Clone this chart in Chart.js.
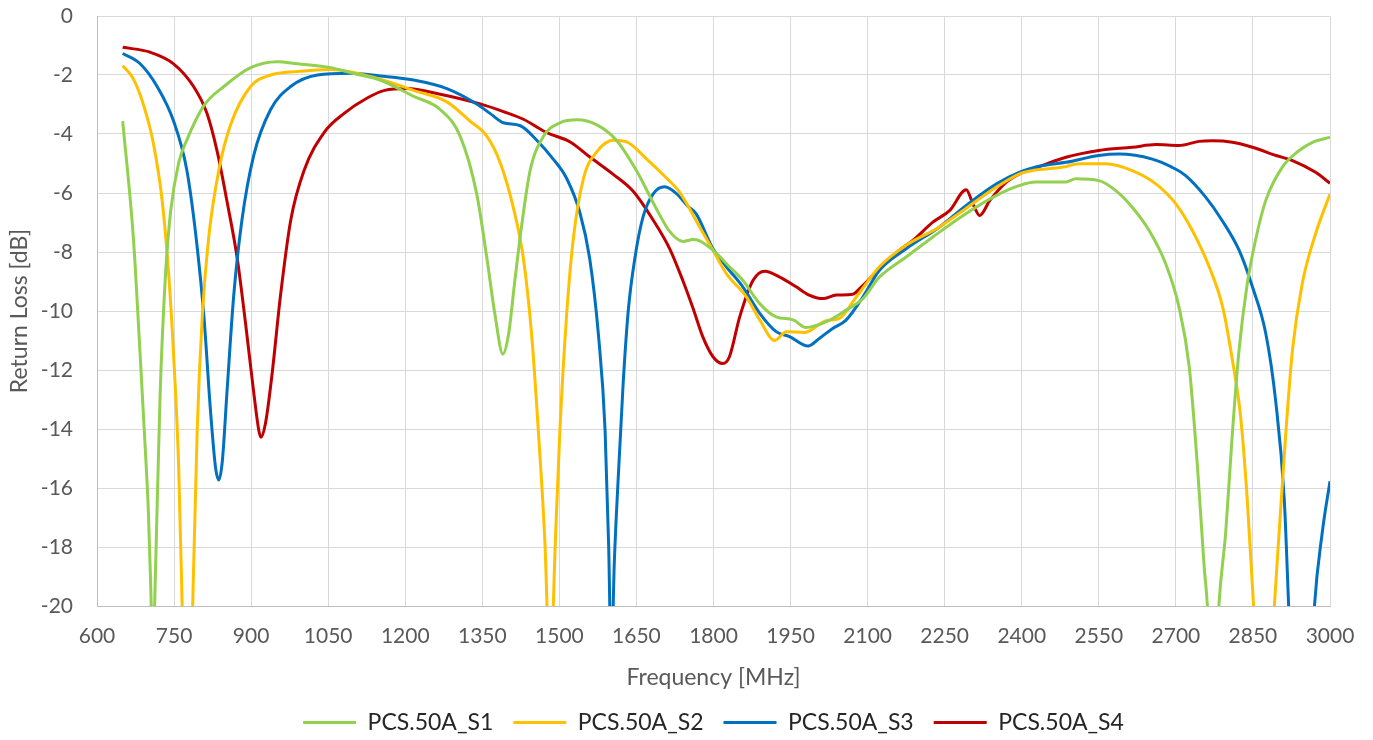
<!DOCTYPE html>
<html>
<head>
<meta charset="utf-8">
<title>Return Loss</title>
<script src="https://cdn.jsdelivr.net/npm/chart.js@4.4.1/dist/chart.umd.min.js"></script>
<style>
  html, body { margin: 0; padding: 0; background: #fff; }
  #wrap { width: 1373px; height: 740px; }
</style>
</head>
<body>
<div id="wrap"><canvas id="rlChart" width="1373" height="740"></canvas></div>
<script>
// frequency [MHz] / return loss [dB] (dips run below -20 and get clipped)
const s1Freq = [650, 671, 684, 695, 700, 705, 709, 713, 718, 723, 733, 743, 759, 775, 808, 847, 899, 951, 990, 1055, 1100, 1151, 1216, 1268, 1307, 1339, 1359, 1375, 1390, 1401, 1414, 1427, 1443, 1469, 1501, 1534, 1573, 1611, 1650, 1689, 1715, 1741, 1760, 1773, 1799, 1831, 1857, 1890, 1922, 1955, 1980, 2019, 2058, 2091, 2123, 2175, 2227, 2286, 2351, 2395, 2427, 2486, 2505, 2550, 2583, 2615, 2648, 2680, 2706, 2726, 2742, 2755, 2762, 2772, 2783, 2797, 2810, 2823, 2839, 2855, 2875, 2907, 2940, 2966, 3000];
const s1Loss = [-3.56, -7.57, -11.5, -15.0, -16.8, -19.6, -22, -19.4, -16.0, -12.75, -8.87, -6.67, -4.98, -4.2, -3.04, -2.39, -1.75, -1.55, -1.62, -1.75, -1.95, -2.17, -2.72, -3.17, -4.08, -6.02, -8.22, -10.16, -11.46, -10.8, -8.87, -7.05, -5.24, -4.08, -3.62, -3.52, -3.69, -4.21, -5.24, -6.54, -7.31, -7.64, -7.58, -7.62, -7.94, -8.5, -8.96, -9.75, -10.2, -10.3, -10.56, -10.37, -9.97, -9.58, -8.85, -8.17, -7.49, -6.76, -6.08, -5.75, -5.63, -5.63, -5.52, -5.58, -5.92, -6.48, -7.27, -8.39, -9.86, -11.89, -15.27, -18.65, -20.2, -25, -20.2, -17.5, -14.14, -11.32, -9.07, -7.6, -6.25, -5.13, -4.56, -4.28, -4.11];

const s2Freq = [650, 671, 691, 710, 727, 740, 749, 759, 766, 776, 786, 795, 805, 817, 837, 860, 899, 938, 990, 1055, 1151, 1216, 1281, 1326, 1359, 1385, 1411, 1430, 1446, 1459, 1472, 1482, 1492, 1501, 1514, 1527, 1547, 1573, 1605, 1631, 1670, 1709, 1734, 1773, 1799, 1825, 1864, 1890, 1919, 1942, 1977, 2019, 2045, 2078, 2123, 2175, 2240, 2286, 2351, 2396, 2421, 2479, 2512, 2563, 2615, 2661, 2700, 2732, 2765, 2791, 2810, 2826, 2839, 2852, 2871, 2891, 2901, 2914, 2927, 2946, 2972, 3000];
const s2Loss = [-1.68, -2.14, -3.04, -4.34, -6.28, -8.87, -11.46, -15.3, -20.2, -28, -20.2, -14.05, -10.16, -7.57, -5.24, -3.69, -2.39, -2.0, -1.88, -1.81, -2.14, -2.52, -2.91, -3.56, -4.08, -4.98, -6.54, -8.22, -10.8, -14.05, -17.9, -22.5, -17.9, -14.05, -10.16, -7.57, -5.5, -4.6, -4.21, -4.27, -4.85, -5.5, -5.97, -7.15, -7.94, -8.73, -9.52, -10.3, -11.0, -10.7, -10.73, -10.33, -10.25, -9.52, -8.5, -7.77, -7.15, -6.59, -5.8, -5.35, -5.24, -5.13, -5.01, -5.01, -5.24, -5.69, -6.37, -7.27, -8.51, -9.86, -11.66, -13.58, -16.4, -20.2, -27, -20.2, -17.5, -14.14, -11.32, -9.07, -7.38, -6.03];

const s3Freq = [650, 684, 717, 749, 775, 795, 808, 821, 831, 837, 844, 853, 866, 882, 905, 938, 977, 1029, 1094, 1151, 1216, 1281, 1339, 1365, 1391, 1424, 1456, 1488, 1514, 1540, 1559, 1576, 1589, 1596, 1601, 1607, 1615, 1624, 1634, 1647, 1663, 1683, 1705, 1728, 1750, 1766, 1799, 1825, 1857, 1890, 1922, 1948, 1984, 2006, 2032, 2058, 2091, 2123, 2175, 2240, 2292, 2351, 2395, 2440, 2486, 2550, 2589, 2654, 2693, 2719, 2758, 2790, 2823, 2849, 2875, 2894, 2911, 2920, 2944, 2969, 2985, 3000];
const s3Loss = [-1.27, -1.62, -2.39, -3.56, -5.24, -7.83, -10.16, -13.4, -15.34, -15.73, -15.08, -12.75, -9.5, -6.93, -4.73, -3.17, -2.39, -2.0, -1.94, -2.03, -2.17, -2.46, -2.98, -3.3, -3.62, -3.72, -4.21, -4.85, -5.5, -6.67, -8.22, -10.8, -14.05, -18.0, -22, -18.5, -15.5, -12.5, -10.0, -8.2, -6.8, -6.02, -5.79, -6.02, -6.45, -6.7, -7.89, -8.5, -9.18, -10.08, -10.7, -10.87, -11.19, -10.93, -10.59, -10.31, -9.52, -8.62, -7.89, -7.15, -6.42, -5.69, -5.3, -5.07, -4.96, -4.73, -4.68, -4.85, -5.13, -5.41, -6.14, -6.93, -7.94, -9.18, -10.76, -13.01, -16.39, -20.2, -30, -20.2, -17.5, -15.77];

const s4Freq = [650, 704, 749, 788, 814, 834, 853, 873, 889, 905, 915, 919, 928, 941, 957, 977, 1003, 1042, 1081, 1126, 1160, 1203, 1268, 1346, 1391, 1430, 1475, 1521, 1560, 1605, 1644, 1683, 1715, 1741, 1760, 1779, 1799, 1818, 1831, 1851, 1877, 1900, 1929, 1961, 1985, 2013, 2039, 2071, 2088, 2123, 2162, 2188, 2227, 2260, 2292, 2305, 2318, 2338, 2370, 2396, 2440, 2486, 2550, 2615, 2661, 2706, 2745, 2771, 2810, 2849, 2895, 2927, 2972, 3000];
const s4Loss = [-1.06, -1.23, -1.62, -2.39, -3.3, -4.6, -6.28, -8.22, -10.4, -12.75, -14.05, -14.28, -13.8, -12.1, -9.5, -6.93, -5.24, -3.95, -3.3, -2.78, -2.52, -2.46, -2.65, -2.98, -3.24, -3.5, -3.95, -4.27, -4.79, -5.37, -5.95, -6.93, -7.9, -9.0, -9.9, -10.87, -11.55, -11.78, -11.55, -10.2, -8.96, -8.65, -8.85, -9.18, -9.45, -9.58, -9.46, -9.43, -9.18, -8.56, -7.94, -7.61, -6.99, -6.59, -5.89, -6.37, -6.76, -6.25, -5.63, -5.35, -5.07, -4.79, -4.56, -4.45, -4.36, -4.39, -4.25, -4.23, -4.28, -4.45, -4.73, -4.9, -5.3, -5.67];

const seriesNames = ['PCS.50A_S1', 'PCS.50A_S2', 'PCS.50A_S3', 'PCS.50A_S4'];
const seriesColors = ['#92D050', '#FFC000', '#0070C0', '#C00000'];

const xMin = 600, xMax = 3000, xStep = 150;
const yMin = -20, yMax = 0, yStep = 2;

function toPoints(freq, loss) {
    return freq.map((f, i) => ({ x: f, y: loss[i] }));
}

document.addEventListener('DOMContentLoaded', () => {
    const canvas = document.getElementById('rlChart');
    const ctx = canvas.getContext('2d');

    Chart.defaults.font.family = 'Lato, "Open Sans", sans-serif';
    Chart.defaults.color = '#595959';

    const allSeries = [[s1Freq, s1Loss], [s2Freq, s2Loss], [s3Freq, s3Loss], [s4Freq, s4Loss]];
    const datasets = allSeries.map((s, i) => ({
        label: seriesNames[i],
        data: toPoints(s[0], s[1]),
        borderColor: seriesColors[i],
        backgroundColor: seriesColors[i],
        borderWidth: 3,
        pointRadius: 0,
        fill: false,
        cubicInterpolationMode: 'monotone'
    }));

    // invisible tick marks give the label gap without the extra layout padding ticks.padding adds
    const hiddenTicks = { color: '#d9d9d9', drawTicks: true, tickColor: 'rgba(0,0,0,0)' };

    new Chart(ctx, {
        type: 'line',
        data: { datasets: datasets },
        options: {
            responsive: false,
            animation: false,
            layout: { padding: { top: 16, right: 43, bottom: 0, left: 0 } },
            scales: {
                x: {
                    type: 'linear',
                    min: xMin,
                    max: xMax,
                    afterFit: (scale) => { scale.height = 85; },
                    ticks: {
                        stepSize: xStep,
                        padding: 0,
                        font: { size: 21 },
                        color: '#595959',
                        callback: (v) => String(v)
                    },
                    grid: Object.assign({ tickLength: 18 }, hiddenTicks),
                    border: { color: '#bfbfbf' },
                    title: {
                        display: true,
                        text: 'Frequency [MHz]',
                        font: { size: 23 },
                        color: '#595959',
                        padding: { top: 0, bottom: 0 }
                    }
                },
                y: {
                    min: yMin,
                    max: yMax,
                    afterFit: (scale) => { scale.width = 97; },
                    ticks: {
                        stepSize: yStep,
                        padding: 0,
                        font: { size: 21 },
                        color: '#595959',
                        callback: (v) => String(v)
                    },
                    grid: Object.assign({ tickLength: 24 }, hiddenTicks),
                    border: { color: '#bfbfbf' },
                    title: {
                        display: true,
                        text: 'Return Loss [dB]',
                        font: { size: 23 },
                        color: '#595959',
                        padding: { top: 6, bottom: 0 }
                    }
                }
            },
            plugins: {
                legend: {
                    position: 'bottom',
                    fullSize: false,
                    maxHeight: 49,
                    labels: {
                        boxWidth: 53,
                        boxHeight: 3,
                        padding: 20,
                        color: '#262626',
                        font: { size: 23 },
                        generateLabels: (chart) => {
                            const items = Chart.defaults.plugins.legend.labels.generateLabels(chart);
                            items.forEach(it => { it.lineWidth = 0; });
                            return items;
                        }
                    }
                },
                tooltip: { enabled: false }
            }
        }
    });
});
</script>
</body>
</html>
